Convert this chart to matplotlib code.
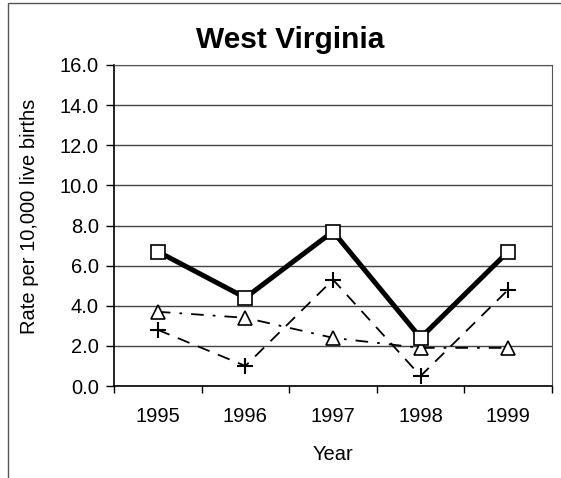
import matplotlib
matplotlib.use('Agg')
import matplotlib.pyplot as plt
from matplotlib.patches import Rectangle

plt.rcParams['font.family'] = ['Liberation Sans', 'DejaVu Sans']

years = ['1995', '1996', '1997', '1998', '1999']
rate_square = [6.7, 4.4, 7.7, 2.4, 6.7]
rate_triangle = [3.7, 3.4, 2.4, 1.9, 1.9]
rate_plus = [2.8, 1.0, 5.3, 0.5, 4.8]
y_ticks = [0.0, 2.0, 4.0, 6.0, 8.0, 10.0, 12.0, 14.0, 16.0]

W, H = 561, 478
fig = plt.figure(figsize=(W / 100, H / 100), dpi=100)
ax = fig.add_axes([114 / W, 1 - 386 / H, 438 / W, 321 / H])

# outer chart frame (only left and top edges show in the scan)
fig.patches.append(Rectangle((8 / W, -0.1), 1.2, 1 - 3 / H + 0.1,
                             transform=fig.transFigure, fill=False,
                             edgecolor='#555555', linewidth=1.0))

x = list(range(len(years)))
ax.plot(x, rate_plus, color='black', linestyle=(0, (7, 5)), linewidth=1.3,
        marker='+', markersize=11, markeredgewidth=1.5, zorder=3)
ax.plot(x, rate_triangle, color='black', linestyle=(0, (7, 5, 1.5, 5)), linewidth=1.3,
        marker='^', markersize=10, markerfacecolor='white', markeredgecolor='black',
        markeredgewidth=1.2, zorder=4)
ax.plot(x, rate_square, color='black', linestyle='-', linewidth=3.6,
        marker='s', markersize=10, markerfacecolor='white', markeredgecolor='black',
        markeredgewidth=1.2, zorder=5)

ax.set_xlim(-0.5, len(years) - 0.5)
ax.set_ylim(0, 16)
ax.set_yticks(y_ticks)
ax.set_yticklabels(['%.1f' % v for v in y_ticks])
ax.set_xticks(x)
ax.set_xticklabels(years)
ax.set_xticks([i - 0.5 for i in range(len(years) + 1)], minor=True)
ax.tick_params(axis='x', which='major', length=0, pad=15, labelsize=14.5)
ax.tick_params(axis='x', which='minor', length=5, width=1, direction='out')
ax.tick_params(axis='y', length=6, width=1, direction='out', labelsize=14.5, pad=5)

ax.yaxis.grid(True, color='#444444', linewidth=1.0)
ax.set_axisbelow(True)
for side in ['top', 'right']:
    ax.spines[side].set_color('#555555')
    ax.spines[side].set_linestyle((0, (2, 1)))
for side in ['left', 'bottom']:
    ax.spines[side].set_color('black')
    ax.spines[side].set_linewidth(1.2)

fig.text(290 / W, 1 - 48 / H, 'West Virginia', fontsize=21.5, fontweight='bold',
         ha='center', va='baseline')
fig.text(30 / W, 1 - 216 / H, 'Rate per 10,000 live births', fontsize=14.5,
         rotation=90, ha='center', va='center')
fig.text(333 / W, 1 - 455 / H, 'Year', fontsize=14.5, ha='center', va='center')

fig.savefig('out.png', dpi=100)
